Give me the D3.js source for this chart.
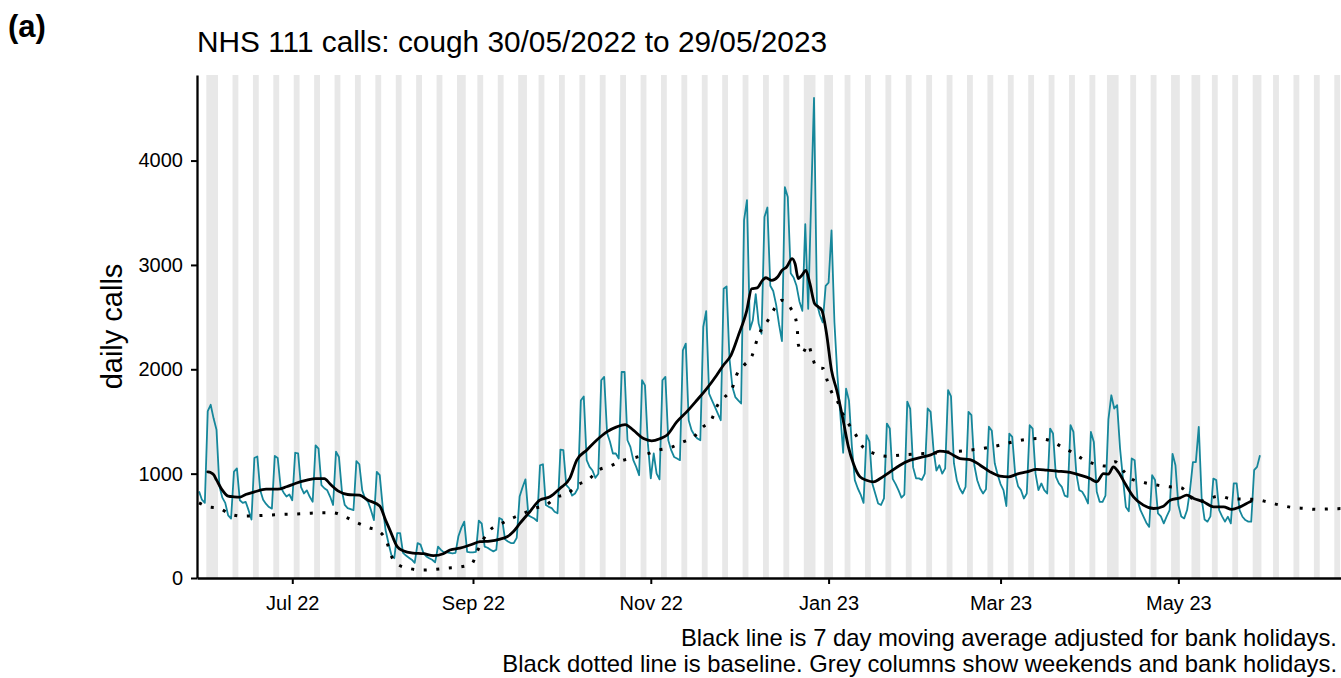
<!DOCTYPE html>
<html>
<head>
<meta charset="utf-8">
<script src="https://cdn.jsdelivr.net/npm/d3@7"></script>
<style>
  body { margin: 0; background: #ffffff; }
  svg text { font-family: "Liberation Sans", Arial, Helvetica, sans-serif; }
</style>
</head>
<body>
<svg id="chart" width="1341" height="678"></svg>
<script>
// ---------------- DATA ----------------
const startDate = "2022-05-30";   // first day of the daily series (Monday)

// Daily NHS 111 cough calls, 30/05/2022 .. 29/05/2023 (one value per day)
const dailyCalls = [
  830, 750, 720, 1600, 1660, 1530, 1420,
  880, 770, 720, 600, 570, 1020, 1050,
  745, 720, 730, 650, 560, 1150, 1165,
  840, 750, 710, 680, 665, 1170, 1150,
  870, 820, 780, 800, 745, 1200, 1195,
  870, 810, 840, 778, 730, 1270, 1240,
  890, 860, 840, 778, 700, 1210, 1160,
  840, 700, 670, 660, 650, 1120, 1090,
  840, 760, 730, 650, 555, 1017, 985,
  690, 460, 335, 220, 190, 430, 430,
  240, 215, 195, 175, 145, 335, 320,
  240, 207, 190, 175, 150, 300, 270,
  245, 245, 240, 235, 240, 400, 480,
  540, 250, 245, 245, 250, 550, 520,
  300, 290, 270, 255, 270, 575, 560,
  370, 350, 335, 335, 385, 780, 870,
  945, 600, 585, 570, 545, 1080, 1090,
  700, 682, 670, 635, 620, 1230, 1225,
  890, 860, 790, 810, 860, 1700, 1740,
  1130, 1065, 1030, 960, 1000, 1895, 1927,
  1390, 1305, 1193, 1193, 1145, 1974, 1974,
  1320, 1257, 1129, 1065, 985, 1895, 1846,
  1290, 954, 1193, 1001, 945, 1895, 1927,
  1320, 1225, 1160, 1145, 1129, 2182, 2246,
  1512, 1416, 1368, 1336, 1320, 2405, 2558,
  1767, 1703, 1640, 1576, 1512, 2772, 2794,
  2100, 1830, 1734, 1703, 1672, 3430, 3620,
  2380, 2470, 2720, 2440, 2340, 3460, 3550,
  2800, 2750, 2620, 2430, 2270, 3745, 3650,
  2920, 2880, 2800, 2650, 2560, 3390, 2580,
  3600, 4600, 2630, 2520, 2450, 2800, 2830,
  3330, 2450, 1950, 1576, 1200, 1815, 1700,
  1257, 938, 860, 800, 720, 1370, 1310,
  906, 810, 714, 700, 762, 1480, 1432,
  950, 900, 840, 770, 800, 1690, 1620,
  1060, 955, 955, 940, 1000, 1624, 1592,
  1225, 1030, 1080, 1000, 1050, 1800, 1740,
  1100, 937, 858, 810, 874, 1592, 1560,
  1080, 937, 858, 810, 850, 1450, 1410,
  1100, 990, 900, 842, 690, 1384, 1352,
  1000, 880, 842, 762, 810, 1464, 1432,
  1000, 842, 906, 842, 810, 1432, 1384,
  969, 906, 874, 790, 778, 1464, 1400,
  1000, 842, 826, 778, 714, 1400, 1304,
  826, 730, 730, 790, 1520, 1751, 1624,
  1656, 1240, 950, 680, 640, 1145, 1129,
  746, 650, 590, 530, 490, 985, 940,
  620, 590, 523, 590, 651, 1190, 1080,
  700, 590, 571, 651, 842, 1110, 1110,
  1448, 760, 560, 540, 590, 953, 938,
  650, 590, 540, 587, 523, 906, 906,
  651, 587, 555, 540, 540, 1033, 1065,
  1177
];

// 7 day moving average: [days after startDate, calls]
const movingAverage = [
  [3,1017],[4,1010],[5,990],[6,940],[8,842],[10,785],[12,778],[14,775],[16,800],[19,825],
  [23,851],[27,851],[30,874],[33,906],[37,937],[40,953],[43,953],[45,900],[48,830],[51,800],
  [55,795],[58,746],[62,690],[64,555],[65.5,459],[68,300],[70,262],[73.5,239],[77,233],[80.4,214],
  [83.8,233],[86.1,268],[89.5,286],[93,316],[96.4,348],[99.8,354],[103.3,373],[105.5,392],[107.8,443],[110.1,523],
  [113.5,635],[116.9,746],[120.4,778],[123.8,858],[127.2,954],[129.6,1130],[133,1225],[136.4,1320],[139.9,1400],[143.3,1448],
  [146.2,1470],[149,1416],[152.5,1336],[155.3,1314],[158.2,1336],[160.5,1368],[163.9,1496],[167.3,1592],[170.8,1703],[174.2,1815],
  [177.6,1943],[179.9,2039],[182.5,2134],[185,2320],[187.9,2560],[189.6,2772],[191.5,2780],[193.3,2852],[194.5,2877],[196.5,2852],
  [198.5,2884],[200,2948],[201.6,2980],[203.5,3060],[204.5,3011],[205.6,2870],[206.8,2900],[208.2,2948],[209.6,2820],[211.2,2629],
  [212.5,2597],[213.7,2565],[215.3,2341],[217,1990],[218.8,1799],[221,1512],[222.8,1257],[224.5,1097],[226.8,969],[229,937],
  [231.4,921],[233.7,953],[237.1,1017],[240.5,1081],[244,1129],[247.4,1154],[250.8,1177],[254.2,1215],[256.5,1209],[258.8,1177],
  [261.1,1145],[264.5,1135],[268,1081],[271.4,1017],[274.8,976],[277.7,969],[280.6,995],[284,1017],[287.4,1040],[290.8,1033],
  [294.3,1024],[298.9,1011],[302.3,985],[305.7,953],[308,921],[310.3,1001],[312,995],[313.7,1065],[315.4,1017],[317.7,906],
  [320.6,778],[324,698],[327.5,666],[330.9,688],[333.2,746],[336.6,768],[338.9,794],[341.3,762],[344.6,730],[348.1,682],
  [351.5,682],[354.3,657],[357.2,682],[360.6,730],[361,735]
];

// Baseline (dotted): [days after startDate, calls]
const baseline = [
  [0,720],[3,683],[7,667],[10.6,613],[15,593],[19.5,597],[24,603],[28.4,609],[32.7,613],[37,619],
  [41.5,625],[46,625],[50,587],[54,533],[58,485],[62,443],[64.5,338],[65.8,224],[68.4,127],[72.4,90],
  [76.6,76],[81,83],[85.5,96],[90,108],[93.7,140],[95.3,245],[99.8,459],[103.5,517],[107.3,571],[111.3,619],
  [115,667],[119,698],[122.5,772],[126.5,810],[129.8,890],[133.8,947],[137,1033],[141,1072],[145,1123],[149.2,1151],
  [153.6,1187],[157.6,1225],[161.8,1250],[165.8,1301],[169.8,1352],[172.7,1442],[175.9,1522],[177.6,1640],[180.2,1729],[183.1,1831],
  [184.4,1943],[187,2039],[189.8,2134],[191.1,2252],[192.7,2367],[195.2,2469],[197.2,2571],[199.9,2661],[203.1,2581],[204.7,2485],
  [205.3,2367],[205.6,2240],[207,2157],[209,2237],[210.4,2118],[212,2013],[214.2,2007],[215.5,1895],[217,1783],[219.3,1678],
  [221,1566],[223.3,1457],[225.6,1359],[227.7,1257],[231.6,1193],[235.7,1167],[240.2,1177],[244.5,1186],[248.7,1193],[253.3,1199],
  [257.6,1209],[262,1218],[266.2,1231],[270.6,1250],[274.8,1273],[279.2,1304],[283.4,1327],[287.9,1336],[292.2,1314],[296,1257],
  [299.7,1203],[303.4,1138],[307.4,1091],[311.4,1072],[314.3,1113],[317.1,1027],[320.3,944],[324.5,912],[328.8,890],[333.1,874],
  [336.8,866],[342.5,730],[346.3,758],[350,785],[354,760],[358.3,756],[362.3,753],[366.5,730],[370.9,698],[375.1,676],
  [379.4,667],[383.8,657],[388.2,663],[391.8,665]
];

// Bank holidays (England) shown as grey columns alongside weekends
const bankHolidays = [
  "2022-06-02","2022-06-03","2022-08-29","2022-09-19","2022-12-26","2022-12-27",
  "2023-01-02","2023-04-07","2023-04-10","2023-05-01","2023-05-08","2023-05-29"
];

const xTickDates = ["2022-07-01","2022-09-01","2022-11-01","2023-01-01","2023-03-01","2023-05-01"];
const yTickValues = [0, 1000, 2000, 3000, 4000];
const panelLabel = "(a)";
const titleText = "NHS 111 calls: cough 30/05/2022 to 29/05/2023";
const yAxisTitle = "daily calls";
const captionLines = [
  "Black line is 7 day moving average adjusted for bank holidays.",
  "Black dotted line is baseline. Grey columns show weekends and bank holidays."
];

// ---------------- CHART ----------------
const svg = d3.select("#chart");
const panel = { l: 197, r: 1341, t: 75, b: 578 };
const parse = d3.utcParse("%Y-%m-%d");
const fmtDay = d3.utcFormat("%Y-%m-%d");
const t0 = parse(startDate);
const DAY = 864e5;
const at = off => new Date(t0.getTime() + off * DAY);

const x = d3.scaleUtc().domain([at(-0.69), at(391.8)]).range([panel.l, panel.r]);
const y = d3.scaleLinear().domain([0, 4820]).range([panel.b, panel.t]);

svg.append("rect").attr("width", 1341).attr("height", 678).attr("fill", "#ffffff");

svg.append("defs").append("clipPath").attr("id", "clip")
  .append("rect").attr("x", panel.l).attr("y", panel.t)
  .attr("width", panel.r - panel.l).attr("height", panel.b - panel.t);

const plot = svg.append("g").attr("clip-path", "url(#clip)");

// grey columns for weekends and bank holidays
const bh = new Set(bankHolidays);
const shadedDays = [];
for (let k = -2; k <= 394; k++) {
  const d = at(k), wd = d.getUTCDay();
  if (wd === 0 || wd === 6 || bh.has(fmtDay(d))) shadedDays.push(k);
}
const runs = [];
shadedDays.forEach(k => {
  const last = runs[runs.length - 1];
  if (last && last[1] === k - 1) last[1] = k; else runs.push([k, k]);
});
plot.selectAll("rect.col").data(runs).join("rect")
  .attr("class", "col")
  .attr("x", r => x(at(r[0] - 0.5)))
  .attr("width", r => x(at(r[1] + 0.5)) - x(at(r[0] - 0.5)))
  .attr("y", panel.t)
  .attr("height", panel.b - panel.t)
  .attr("fill", "#e8e8e8");

// daily calls line
const daily = dailyCalls.map((v, i) => ({ date: at(i), v }));
plot.append("path").datum(daily)
  .attr("fill", "none")
  .attr("stroke", "#16879b")
  .attr("stroke-width", 1.8)
  .attr("stroke-linejoin", "round")
  .attr("d", d3.line().x(d => x(d.date)).y(d => y(d.v)));

// baseline dotted
plot.append("path").datum(baseline.map(p => ({ date: at(p[0]), v: p[1] })))
  .attr("fill", "none")
  .attr("stroke", "#000")
  .attr("stroke-width", 3)
  .attr("stroke-dasharray", "3 9.6")
  .attr("d", d3.line().curve(d3.curveMonotoneX).x(d => x(d.date)).y(d => y(d.v)));

// moving average
plot.append("path").datum(movingAverage.map(p => ({ date: at(p[0]), v: p[1] })))
  .attr("fill", "none")
  .attr("stroke", "#000")
  .attr("stroke-width", 2.8)
  .attr("stroke-linejoin", "round")
  .attr("stroke-linecap", "round")
  .attr("d", d3.line().curve(d3.curveMonotoneX).x(d => x(d.date)).y(d => y(d.v)));

// axes
const xAxis = svg.append("g").attr("transform", `translate(0,${panel.b})`)
  .call(d3.axisBottom(x).tickValues(xTickDates.map(parse))
    .tickFormat(d3.utcFormat("%b %y")).tickSize(6).tickSizeOuter(0).tickPadding(12));
const yAxis = svg.append("g").attr("transform", `translate(${panel.l},0)`)
  .call(d3.axisLeft(y).tickValues(yTickValues).tickFormat(d3.format("d"))
    .tickSize(6).tickSizeOuter(0).tickPadding(8));

[xAxis, yAxis].forEach(g => {
  g.select(".domain").attr("stroke", "#000").attr("stroke-width", 2.3);
  g.selectAll(".tick line").attr("stroke", "#000").attr("stroke-width", 2);
  g.selectAll(".tick text").attr("fill", "#000").style("font-size", "20px")
    .style("font-family", '"Liberation Sans", Arial, sans-serif');
});

// texts
svg.append("text").attr("x", 8).attr("y", 37)
  .style("font-size", "31px").style("font-weight", "bold").attr("fill", "#000")
  .text(panelLabel);

svg.append("text").attr("x", 197).attr("y", 52)
  .style("font-size", "29.8px").attr("fill", "#000")
  .text(titleText);

svg.append("text")
  .attr("transform", `translate(122,${(panel.t + panel.b) / 2}) rotate(-90)`)
  .attr("text-anchor", "middle")
  .style("font-size", "29px").attr("fill", "#000")
  .text(yAxisTitle);

svg.selectAll("text.caption").data(captionLines).join("text")
  .attr("class", "caption")
  .attr("x", 1337).attr("y", (d, i) => 646 + i * 26)
  .attr("text-anchor", "end")
  .style("font-size", "23.8px").attr("fill", "#000")
  .text(d => d);
</script>
</body>
</html>
